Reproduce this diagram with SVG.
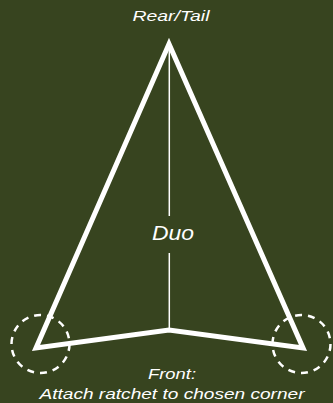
<svg xmlns="http://www.w3.org/2000/svg" width="333" height="403" viewBox="0 0 333 403">
<style>
.lbl{font-family:"Liberation Sans","DejaVu Sans",sans-serif;font-style:italic;fill:#ffffff;text-anchor:middle}
.dash{fill:none;stroke:#ffffff;stroke-width:2.5;stroke-dasharray:7 6}
</style>
<rect width="333" height="403" fill="#37441f"/>
<g id="connectors">
<line x1="169.3" y1="44" x2="169.3" y2="216" stroke="#ffffff" stroke-width="1.5"/>
<line x1="169.3" y1="253" x2="169.3" y2="330" stroke="#ffffff" stroke-width="1.5"/>
</g>
<g id="triangle">
<polygon points="169,44 36,348 169,330 303,348" fill="none" stroke="#ffffff" stroke-width="5" stroke-linejoin="miter" stroke-miterlimit="10"/>
</g>
<g id="left-corner"><circle class="dash" cx="40.5" cy="344" r="29"/></g>
<g id="right-corner"><circle class="dash" cx="301.5" cy="344" r="29"/></g>
<g id="rear"><text class="lbl" x="171" y="21" font-size="15" textLength="77" lengthAdjust="spacingAndGlyphs">Rear/Tail</text></g>
<g id="duo"><text class="lbl" x="173" y="240" font-size="21" textLength="42" lengthAdjust="spacingAndGlyphs">Duo</text></g>
<g id="front">
<text class="lbl" x="172" y="379" font-size="15" textLength="48" lengthAdjust="spacingAndGlyphs">Front:</text>
<text class="lbl" x="172" y="399" font-size="15" textLength="265" lengthAdjust="spacingAndGlyphs">Attach ratchet to chosen corner</text>
</g>
</svg>
